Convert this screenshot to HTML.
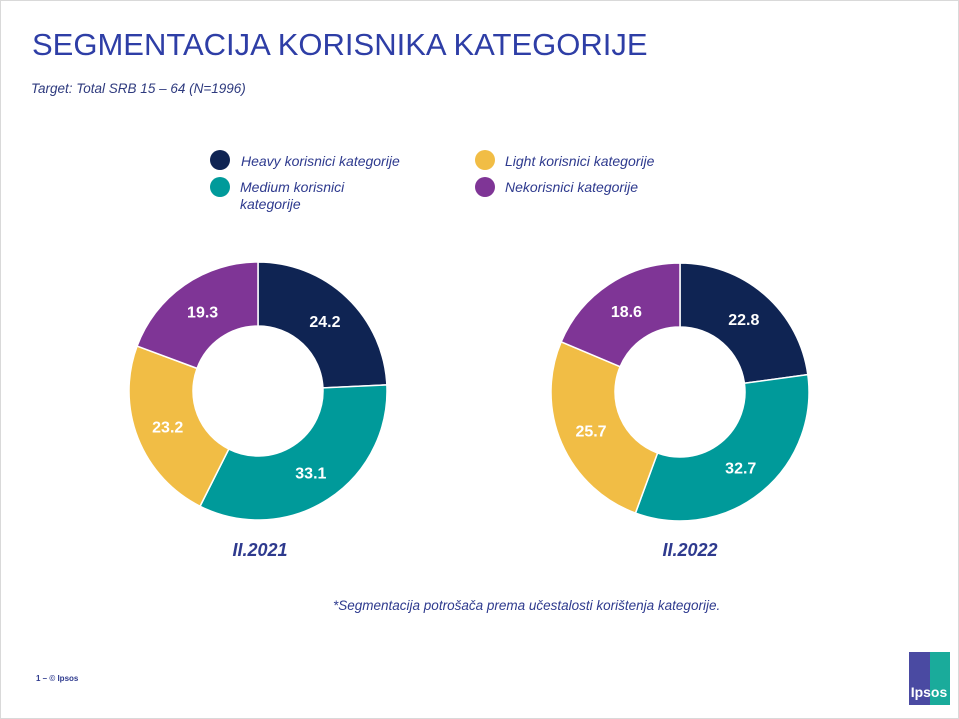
<!DOCTYPE html>
<html><head><meta charset="utf-8"><style>
body{margin:0;width:959px;height:719px;background:#fff;font-family:"Liberation Sans",sans-serif;position:relative;overflow:hidden}
.t{position:absolute;white-space:nowrap}
</style></head><body>
<div style="position:absolute;left:0;top:0;width:957px;height:717px;border:1px solid #d9d9d9"></div>
<div class="t" style="left:32px;top:27px;font-size:31px;color:#2e3ea6">SEGMENTACIJA KORISNIKA KATEGORIJE</div>
<div class="t" style="left:31px;top:81px;font-size:13.5px;font-style:italic;color:#2e3a7e">Target: Total SRB 15 – 64 (N=1996)</div>
<svg width="959" height="719" style="position:absolute;left:0;top:0" id="s">
<circle cx="220" cy="160" r="10" fill="#0f2453"/>
<circle cx="220" cy="187" r="10" fill="#009a9a"/>
<circle cx="485" cy="160" r="10" fill="#f1bd45"/>
<circle cx="485" cy="187" r="10" fill="#7f3596"/>
<g font-size="14" font-style="italic" fill="#2e3a8e">
<text x="241" y="166">Heavy korisnici kategorije</text>
<text x="240" y="192">Medium korisnici</text>
<text x="240" y="209">kategorije</text>
<text x="505" y="166">Light korisnici kategorije</text>
<text x="505" y="192">Nekorisnici kategorije</text>
</g>
<g font-size="18" font-weight="bold" font-style="italic" fill="#2e3a8e" text-anchor="middle">
<text x="260" y="556">II.2021</text>
<text x="690" y="556">II.2022</text>
</g>
<text x="333" y="610" font-size="13.5" font-style="italic" fill="#2e3a8e">*Segmentacija potrošača prema učestalosti korištenja kategorije.</text>
<text x="36" y="681" font-size="8" font-weight="bold" fill="#2e3a8e">1 –  © Ipsos</text>
<rect x="909" y="652" width="21" height="53" fill="#4a4aa2"/>
<rect x="930" y="652" width="20" height="53" fill="#1aab9b"/>
<text x="929" y="697" font-size="14" font-weight="bold" fill="#fff" text-anchor="middle">Ipsos</text>
</svg>
<script>
var s=document.getElementById('s'),NS='http://www.w3.org/2000/svg';
var cols=['#0f2453','#009a9a','#f1bd45','#7f3596'];
function donut(cx,cy,R,r,vals){var tot=vals.reduce((a,b)=>a+b,0),a=-Math.PI/2;
vals.forEach(function(v,i){var b=a+v/tot*2*Math.PI,l=(b-a)>Math.PI?1:0;
function p(rad,ang){return (cx+rad*Math.cos(ang)).toFixed(2)+' '+(cy+rad*Math.sin(ang)).toFixed(2)}
var d='M'+p(R,a)+'A'+R+' '+R+' 0 '+l+' 1 '+p(R,b)+'L'+p(r,b)+'A'+r+' '+r+' 0 '+l+' 0 '+p(r,a)+'Z';
var e=document.createElementNS(NS,'path');e.setAttribute('d',d);e.setAttribute('fill',cols[i]);e.setAttribute('stroke','#fff');e.setAttribute('stroke-width','1.5');s.appendChild(e);
var m=(a+b)/2,t=document.createElementNS(NS,'text');t.setAttribute('x',cx+(R+r)/2*Math.cos(m));t.setAttribute('y',cy+(R+r)/2*Math.sin(m)+6);
t.setAttribute('text-anchor','middle');t.setAttribute('font-size','16');t.setAttribute('font-weight','bold');t.setAttribute('fill','#fff');t.textContent=v.toFixed(1);s.appendChild(t);a=b;});}
donut(258,391,129,65,[24.2,33.1,23.2,19.3]);
donut(680,392,129,65,[22.8,32.7,25.7,18.6]);
</script>
</body></html>
